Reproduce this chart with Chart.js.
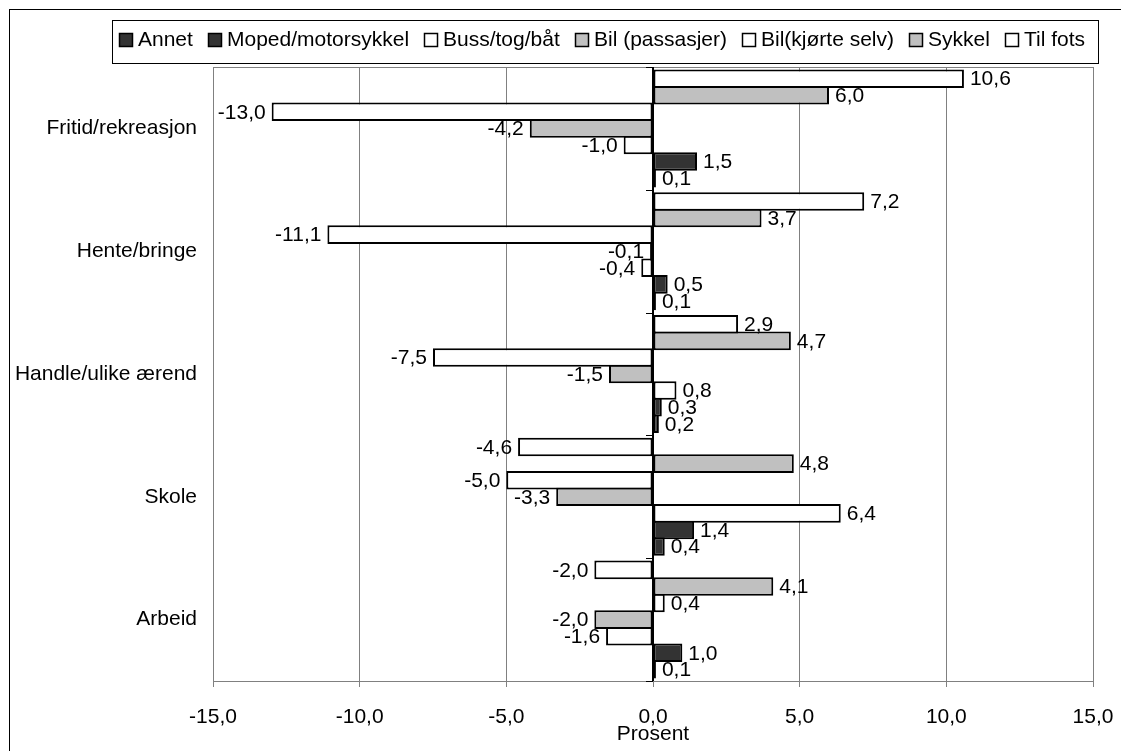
<!DOCTYPE html>
<html>
<head>
<meta charset="utf-8">
<script src="https://cdn.jsdelivr.net/npm/chart.js@4.4.1/dist/chart.umd.min.js"></script>
<style>
  html, body { margin: 0; padding: 0; background: #fff; }
  canvas { display: block; }
</style>
</head>
<body>
<canvas id="chart" width="1121" height="751"></canvas>
<script>
// Endring i andel reiser per transportmiddel, fordelt på formål (prosentpoeng)
const categories = ['Fritid/rekreasjon', 'Hente/bringe', 'Handle/ulike ærend', 'Skole', 'Arbeid'];

const annet        = [0.1, 0.1, 0.2, 0.4, 0.1];
const moped        = [1.5, 0.5, 0.3, 1.4, 1.0];
const buss         = [-1.0, -0.4, 0.8, 6.4, -1.6];
const bilPassasjer = [-4.2, -0.1, -1.5, -3.3, -2.0];
const bilSelv      = [-13.0, -11.1, -7.5, -5.0, 0.4];
const sykkel       = [6.0, 3.7, 4.7, 4.8, 4.1];
const tilFots      = [10.6, 7.2, 2.9, -4.6, -2.0];

const xTicks = [-15, -10, -5, 0, 5, 10, 15];

const FONT = '"Liberation Sans", Arial, sans-serif';
const fmt = v => Number(v).toFixed(1).replace('.', ',');

const DARK = '#333333', GREY = '#c0c0c0', WHITE = '#ffffff';

// Bars are listed top-to-bottom inside each category; the legend shows them in reverse.
const seriesDefs = [
  { label: 'Til fots',          data: tilFots,      fill: WHITE },
  { label: 'Sykkel',            data: sykkel,       fill: GREY  },
  { label: 'Bil(kjørte selv)',  data: bilSelv,      fill: WHITE },
  { label: 'Bil (passasjer)',   data: bilPassasjer, fill: GREY  },
  { label: 'Buss/tog/båt',      data: buss,         fill: WHITE },
  { label: 'Moped/motorsykkel', data: moped,        fill: DARK  },
  { label: 'Annet',             data: annet,        fill: DARK  }
];

const BORDER_W = 2;

const datasets = seriesDefs.map(s => ({
  label: s.label,
  data: s.data,
  backgroundColor: s.fill,
  borderColor: '#000',
  borderWidth: BORDER_W,
  borderSkipped: false,
  categoryPercentage: 0.945,
  barPercentage: 1.12
}));

// White page with the outer frame line
const framePlugin = {
  id: 'frame',
  beforeDraw(chart) {
    const ctx = chart.ctx;
    ctx.save();
    ctx.fillStyle = '#fff';
    ctx.fillRect(0, 0, chart.width, chart.height);
    ctx.strokeStyle = '#000';
    ctx.lineWidth = 1;
    ctx.strokeRect(9.5, 9.5, chart.width + 50, chart.height + 50);
    ctx.restore();
  }
};

// Grey border round the plot area
const plotBorderPlugin = {
  id: 'plotBorder',
  beforeDatasetsDraw(chart) {
    const { ctx, chartArea: a } = chart;
    ctx.save();
    ctx.strokeStyle = '#808080';
    ctx.lineWidth = 1;
    ctx.strokeRect(Math.round(a.left) + 0.5, Math.round(a.top) + 0.5,
                   Math.round(a.right - a.left), Math.round(a.bottom - a.top));
    ctx.restore();
  }
};

// Category axis sitting at x = 0, with small outward tick marks between categories
const zeroAxisPlugin = {
  id: 'zeroAxis',
  afterDatasetsDraw(chart) {
    const { ctx, chartArea: a, scales } = chart;
    const x0 = Math.round(scales.x.getPixelForValue(0));
    const n = categories.length;
    const step = (a.bottom - a.top) / n;
    ctx.save();
    ctx.strokeStyle = '#000';
    ctx.lineWidth = 2;
    ctx.beginPath();
    ctx.moveTo(x0, a.top);
    ctx.lineTo(x0, a.bottom);
    ctx.stroke();
    ctx.lineWidth = 1;
    ctx.beginPath();
    for (let i = 0; i <= n; i++) {
      const y = Math.round(a.top + i * step) + 0.5;
      ctx.moveTo(x0 - 7, y);
      ctx.lineTo(x0, y);
    }
    ctx.stroke();
    ctx.restore();
  }
};

// Value labels at the outer end of every bar
const valueLabelPlugin = {
  id: 'valueLabels',
  afterDatasetsDraw(chart) {
    const ctx = chart.ctx;
    ctx.save();
    ctx.font = '21px ' + FONT;
    ctx.fillStyle = '#000';
    ctx.textBaseline = 'middle';
    chart.data.datasets.forEach((ds, di) => {
      const meta = chart.getDatasetMeta(di);
      meta.data.forEach((el, i) => {
        const v = ds.data[i];
        if (v >= 0) {
          ctx.textAlign = 'left';
          ctx.fillText(fmt(v), el.x + 6, el.y + 1);
        } else {
          ctx.textAlign = 'right';
          ctx.fillText(fmt(v), el.x - 6, el.y + 1);
        }
      });
    });
    ctx.restore();
  }
};

// Boxed one-row legend
const boxLegendPlugin = {
  id: 'boxLegend',
  afterDraw(chart) {
    const ctx = chart.ctx;
    const box = { left: 112, top: 20, right: 1098, bottom: 63 };
    ctx.save();
    ctx.strokeStyle = '#000';
    ctx.lineWidth = 1;
    ctx.strokeRect(box.left + 0.5, box.top + 0.5, box.right - box.left, box.bottom - box.top);

    ctx.font = '21px ' + FONT;
    ctx.textBaseline = 'alphabetic';
    ctx.textAlign = 'left';
    const items = chart.data.datasets.map(d => ({ label: d.label, fill: d.backgroundColor })).reverse();
    const mk = 14, mkGap = 5;
    const widths = items.map(it => ctx.measureText(it.label).width);
    const startX = 119, endX = 1085;
    const used = widths.reduce((acc, w) => acc + mk + mkGap + w, 0);
    const gap = (endX - startX - used) / (items.length - 1);
    let x = startX;
    items.forEach((it, i) => {
      const mx = Math.round(x);
      ctx.fillStyle = it.fill;
      ctx.fillRect(mx, 33, mk, mk);
      ctx.strokeStyle = '#000';
      ctx.lineWidth = 1.5;
      ctx.strokeRect(mx + 0.5, 33.5, mk - 1, mk - 1);
      ctx.fillStyle = '#000';
      ctx.fillText(it.label, mx + mk + mkGap, 46);
      x += mk + mkGap + widths[i] + gap;
    });
    ctx.restore();
  }
};

new Chart(document.getElementById('chart'), {
  type: 'bar',
  data: { labels: categories, datasets },
  options: {
    indexAxis: 'y',
    responsive: false,
    animation: false,
    devicePixelRatio: 1,
    layout: { padding: { top: 67, right: 28, bottom: 0, left: 0 } },
    plugins: {
      legend: { display: false },
      title: { display: false },
      tooltip: { enabled: false }
    },
    scales: {
      x: {
        min: xTicks[0],
        max: xTicks[xTicks.length - 1],
        afterBuildTicks: s => { s.ticks = xTicks.map(v => ({ value: v })); },
        ticks: {
          callback: v => fmt(v),
          font: { family: FONT, size: 21 },
          color: '#000',
          padding: 18,
          maxRotation: 0,
          autoSkip: false
        },
        grid: {
          color: '#808080',
          lineWidth: 1,
          tickLength: 6,
          tickColor: '#808080'
        },
        border: { color: '#808080', width: 1 },
        title: {
          display: true,
          text: 'Prosent',
          font: { family: FONT, size: 21 },
          color: '#000',
          padding: { top: 0, bottom: 4 }
        },
        afterFit: s => {
          s.height = 70;
          s.paddingLeft = 0;
          s.paddingRight = 0;
        }
      },
      y: {
        grid: { display: true, drawOnChartArea: false, drawTicks: false },
        border: { display: true, color: '#808080', width: 1 },
        ticks: {
          font: { family: FONT, size: 21 },
          color: '#000',
          padding: 16
        },
        afterFit: s => { s.width = 213; }
      }
    }
  },
  plugins: [framePlugin, plotBorderPlugin, zeroAxisPlugin, valueLabelPlugin, boxLegendPlugin]
});
</script>
</body>
</html>
